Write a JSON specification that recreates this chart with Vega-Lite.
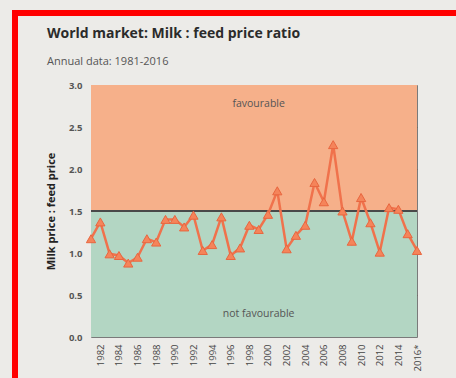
{
  "$schema": "https://vega.github.io/schema/vega-lite/v6.json",
  "autosize": {"type": "none"},
  "padding": {"left": 91, "top": 85, "right": 39, "bottom": 41},
  "width": 326,
  "height": 252,
  "background": "#ecebe8",
  "title": {
    "text": "World market: Milk : feed price ratio",
    "subtitle": "Annual data: 1981-2016",
    "anchor": "start",
    "frame": "group",
    "dx": -44,
    "dy": 57,
    "offset": 0,
    "font": "Open Sans",
    "fontSize": 14,
    "fontWeight": "bold",
    "color": "#2b2b2b",
    "subtitleFont": "Open Sans",
    "subtitleFontSize": 11,
    "subtitleColor": "#555555",
    "subtitlePadding": 15
  },
  "config": {
    "view": {"stroke": "#7a7a7a", "strokeWidth": 1},
    "font": "Open Sans"
  },
  "datasets": {
    "series": [
      {"year": 1981, "ratio": 1.17}, {"year": 1982, "ratio": 1.37}, {"year": 1983, "ratio": 0.99},
      {"year": 1984, "ratio": 0.97}, {"year": 1985, "ratio": 0.88}, {"year": 1986, "ratio": 0.95},
      {"year": 1987, "ratio": 1.17}, {"year": 1988, "ratio": 1.13}, {"year": 1989, "ratio": 1.40},
      {"year": 1990, "ratio": 1.40}, {"year": 1991, "ratio": 1.31}, {"year": 1992, "ratio": 1.45},
      {"year": 1993, "ratio": 1.03}, {"year": 1994, "ratio": 1.10}, {"year": 1995, "ratio": 1.43},
      {"year": 1996, "ratio": 0.97}, {"year": 1997, "ratio": 1.06}, {"year": 1998, "ratio": 1.33},
      {"year": 1999, "ratio": 1.28}, {"year": 2000, "ratio": 1.46}, {"year": 2001, "ratio": 1.74},
      {"year": 2002, "ratio": 1.05}, {"year": 2003, "ratio": 1.21}, {"year": 2004, "ratio": 1.33},
      {"year": 2005, "ratio": 1.84}, {"year": 2006, "ratio": 1.61}, {"year": 2007, "ratio": 2.29},
      {"year": 2008, "ratio": 1.50}, {"year": 2009, "ratio": 1.14}, {"year": 2010, "ratio": 1.66},
      {"year": 2011, "ratio": 1.36}, {"year": 2012, "ratio": 1.01}, {"year": 2013, "ratio": 1.54},
      {"year": 2014, "ratio": 1.52}, {"year": 2015, "ratio": 1.23}, {"year": 2016, "ratio": 1.03}
    ],
    "bands": [
      {"zone": "not favourable", "lo": 0, "hi": 1.5},
      {"zone": "favourable", "lo": 1.5, "hi": 3}
    ],
    "notes": [
      {"label": "favourable", "year": 1999, "ratio": 2.77},
      {"label": "not favourable", "year": 1999, "ratio": 0.27}
    ]
  },
  "layer": [
    {
      "data": {"name": "bands"},
      "mark": {"type": "rect"},
      "encoding": {
        "y": {"field": "lo", "type": "quantitative", "scale": {"domain": [0, 3]},
          "axis": {
            "values": [0, 0.5, 1, 1.5, 2, 2.5, 3],
            "format": ".1f",
            "title": "Milk price : feed price",
            "titleFont": "Open Sans",
            "titleFontSize": 11,
            "titleFontWeight": "bold",
            "titleColor": "#222222",
            "titlePadding": 12,
            "labelFont": "Open Sans",
            "labelFontSize": 9.5,
            "labelFontWeight": "bold",
            "labelColor": "#555555",
            "labelPadding": 9,
            "ticks": false,
            "domain": false,
            "grid": true,
            "gridColor": "#6e5e52",
            "gridDash": [2, 2],
            "gridWidth": 1,
            "gridOpacity": {"condition": {"test": "datum.value == 0 || datum.value == 1.5 || datum.value == 3", "value": 0}, "value": 0.9}
          }
        },
        "y2": {"field": "hi"},
        "color": {
          "field": "zone", "type": "nominal",
          "scale": {"domain": ["not favourable", "favourable"], "range": ["#b3d6c3", "#f6b08a"]},
          "legend": null
        }
      }
    },
    {
      "data": {"name": "bands"},
      "mark": {"type": "rect", "opacity": 0},
      "encoding": {
        "y": {"field": "lo", "type": "quantitative"},
        "y2": {"field": "hi"},
        "fill": {
          "field": "hi", "type": "quantitative",
          "scale": {"range": ["#ffffff00", "#ffffff00"]},
          "legend": {
            "orient": "none",
            "legendX": -76,
            "legendY": -72,
            "title": null,
            "labels": false,
            "labelOpacity": 0,
            "direction": "vertical",
            "gradientLength": 420,
            "gradientThickness": 480,
            "gradientStrokeWidth": 0,
            "padding": 0,
            "strokeColor": "#ff0000",
            "encode": {
              "legend": {"update": {"stroke": {"value": "#ff0000"}, "strokeWidth": {"value": 6}}}
            }
          }
        }
      }
    },
    {
      "data": {"name": "series"},
      "mark": {"type": "rule", "color": "#4a4a4a", "strokeWidth": 1.3},
      "encoding": {"y": {"datum": 1.5, "type": "quantitative"}}
    },
    {
      "data": {"name": "series"},
      "mark": {"type": "line", "color": "#f0724c", "strokeWidth": 2.5},
      "encoding": {
        "x": {"field": "year", "type": "ordinal",
          "scale": {"type": "point", "padding": 0},
          "axis": {
            "values": [1982, 1984, 1986, 1988, 1990, 1992, 1994, 1996, 1998, 2000, 2002, 2004, 2006, 2008, 2010, 2012, 2014, 2016],
            "labelExpr": "datum.value == 2016 ? '2016*' : '' + datum.value",
            "labelAngle": -90,
            "labelOverlap": false,
            "labelBound": false,
            "labelFont": "Open Sans",
            "labelFontSize": 9.5,
            "labelColor": "#444444",
            "labelPadding": 7,
            "ticks": false,
            "domain": false,
            "grid": false,
            "title": null
          }
        },
        "y": {"field": "ratio", "type": "quantitative"}
      }
    },
    {
      "data": {"name": "notes"},
      "mark": {"type": "text", "font": "Open Sans", "fontSize": 10.5, "color": "#555555"},
      "encoding": {
        "x": {"field": "year", "type": "ordinal"},
        "y": {"field": "ratio", "type": "quantitative"},
        "text": {"field": "label"}
      }
    },
    {
      "data": {"name": "series"},
      "mark": {"type": "point", "shape": "triangle-up", "filled": true, "size": 85, "color": "#f5845a", "stroke": "#e8663f", "strokeWidth": 1, "opacity": 1},
      "encoding": {
        "x": {"field": "year", "type": "ordinal"},
        "y": {"field": "ratio", "type": "quantitative"}
      }
    }
  ]
}
